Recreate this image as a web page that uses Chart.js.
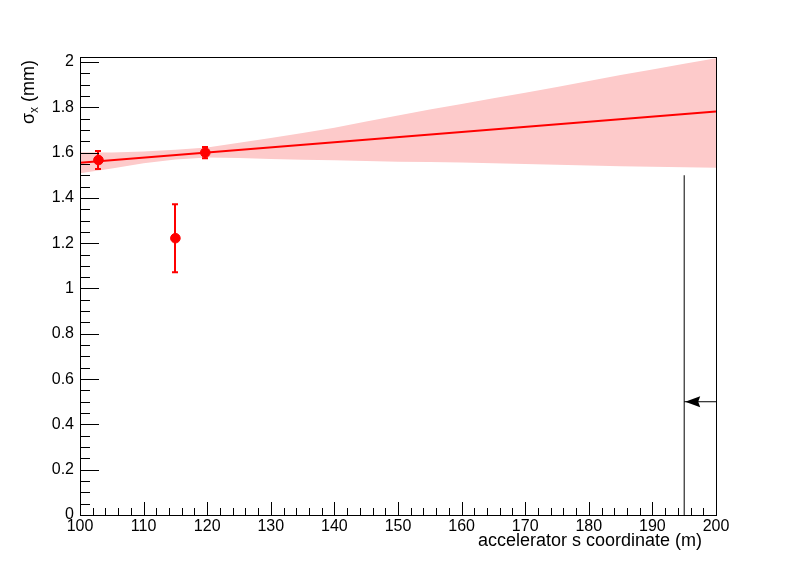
<!DOCTYPE html>
<html>
<head>
<meta charset="utf-8">
<script src="https://cdn.jsdelivr.net/npm/chart.js@4.4.0/dist/chart.umd.min.js"></script>
<style>
  html, body { margin: 0; padding: 0; background: #fff; }
</style>
</head>
<body>
<canvas id="fitChart" width="796" height="572"></canvas>
<script>
// --- data ---
const xTicks = [100, 110, 120, 130, 140, 150, 160, 170, 180, 190, 200];
const yTicks = [0, 0.2, 0.4, 0.6, 0.8, 1, 1.2, 1.4, 1.6, 1.8, 2];

// measured beam size with errors
const measS   = [102.9, 115.0, 119.7];
const measSig = [1.567, 1.222, 1.600];
const measErr = [0.040, 0.150, 0.025];

// linear fit
const fitS   = [100, 200];
const fitSig = [1.555, 1.781];

// confidence band of the fit
const bandS     = [100, 105, 110, 115, 120, 125, 130, 135, 140, 145, 150, 155, 160, 165, 170, 175, 180, 185, 190, 195, 200];
const bandLower = [1.509, 1.530, 1.553, 1.570, 1.578, 1.576, 1.572, 1.568, 1.566, 1.563, 1.560, 1.558, 1.556, 1.553, 1.550, 1.546, 1.543, 1.540, 1.538, 1.535, 1.533];
const bandUpper = [1.601, 1.600, 1.605, 1.612, 1.622, 1.643, 1.664, 1.686, 1.710, 1.737, 1.764, 1.790, 1.815, 1.840, 1.864, 1.890, 1.916, 1.942, 1.967, 1.992, 2.016];

// marker line and arrow
const markerS = 195;
const markerTop = 1.5;
const arrowStart = 200;
const arrowY = 0.5;

const FONT = "'Liberation Sans', Arial, Helvetica, sans-serif";
const toXY = (xs, ys) => xs.map((x, i) => ({ x: x, y: ys[i] }));

// ROOT-like frame, inward ticks, error bars, arrow head and axis titles
const rootStyle = {
    id: 'rootStyle',
    afterDatasetsDraw(chart) {
        const { ctx, chartArea: a, scales: { x, y } } = chart;
        ctx.save();

        // error bars
        ctx.strokeStyle = '#ff0000';
        ctx.lineWidth = 2;
        measS.forEach((s, i) => {
            const px = Math.round(x.getPixelForValue(s));
            const top = y.getPixelForValue(measSig[i] + measErr[i]);
            const bot = y.getPixelForValue(measSig[i] - measErr[i]);
            ctx.beginPath();
            ctx.moveTo(px, top); ctx.lineTo(px, bot);
            ctx.moveTo(px - 3, top); ctx.lineTo(px + 3, top);
            ctx.moveTo(px - 3, bot); ctx.lineTo(px + 3, bot);
            ctx.stroke();
        });

        // arrow head
        const ax = x.getPixelForValue(markerS) + 1;
        const ay = y.getPixelForValue(arrowY);
        ctx.fillStyle = '#000';
        ctx.beginPath();
        ctx.moveTo(ax, ay);
        ctx.lineTo(ax + 15, ay - 5.5);
        ctx.lineTo(ax + 13, ay);
        ctx.lineTo(ax + 15, ay + 5.5);
        ctx.closePath();
        ctx.fill();

        // frame
        ctx.strokeStyle = '#000';
        ctx.lineWidth = 1;
        ctx.strokeRect(Math.round(a.left) + 0.5, Math.round(a.top) + 0.5,
            Math.round(a.right - a.left), Math.round(a.bottom - a.top));

        // y ticks (inward)
        ctx.beginPath();
        for (let k = 0; k <= 40; k++) {
            const v = k * 0.05;
            const py = Math.round(y.getPixelForValue(v)) + 0.5;
            const len = (k % 4 === 0) ? 19 : 10;
            ctx.moveTo(a.left, py); ctx.lineTo(a.left + len, py);
        }
        // x ticks (inward)
        for (let s = 100; s <= 200; s += 2) {
            const px = Math.round(x.getPixelForValue(s)) + 0.5;
            const len = (s % 10 === 0) ? 13 : 7;
            ctx.moveTo(px, a.bottom); ctx.lineTo(px, a.bottom - len);
        }
        ctx.stroke();

        // x title
        ctx.fillStyle = '#000';
        ctx.font = '18px ' + FONT;
        ctx.textAlign = 'right';
        ctx.textBaseline = 'alphabetic';
        ctx.fillText('accelerator s coordinate (m)', a.right - 14, 546);

        // y title with subscript
        ctx.translate(34, 60);
        ctx.rotate(-Math.PI / 2);
        ctx.textAlign = 'left';
        const mainFont = '18px ' + FONT, subFont = '12px ' + FONT;
        ctx.font = mainFont; const wSig = ctx.measureText('\u03c3').width;
        ctx.font = subFont;  const wSub = ctx.measureText('x').width;
        ctx.font = mainFont; const wRest = ctx.measureText(' (mm)').width;
        let cx = -(wSig + wSub + wRest);
        ctx.font = mainFont; ctx.fillText('\u03c3', cx, 0); cx += wSig;
        ctx.font = subFont;  ctx.fillText('x', cx, 4); cx += wSub;
        ctx.font = mainFont; ctx.fillText(' (mm)', cx, 0);

        ctx.restore();
    }
};

new Chart(document.getElementById('fitChart'), {
    type: 'scatter',
    data: {
        datasets: [
            {
                label: 'data',
                data: toXY(measS, measSig),
                backgroundColor: '#ff0000',
                borderColor: '#ff0000',
                pointRadius: 4.8,
                pointHoverRadius: 4.8,
                showLine: false
            },
            {
                label: 'fit',
                data: toXY(fitS, fitSig),
                borderColor: '#ff0000',
                borderWidth: 2,
                pointRadius: 0,
                showLine: true
            },
            {
                label: 'marker',
                data: [{ x: markerS, y: 0 }, { x: markerS, y: markerTop }],
                borderColor: '#000',
                borderWidth: 1,
                pointRadius: 0,
                showLine: true
            },
            {
                label: 'arrow',
                data: [{ x: arrowStart, y: arrowY }, { x: markerS, y: arrowY }],
                borderColor: '#000',
                borderWidth: 1,
                pointRadius: 0,
                showLine: true
            },
            {
                label: 'band upper',
                data: toXY(bandS, bandUpper),
                borderWidth: 0,
                borderColor: 'rgba(0,0,0,0)',
                backgroundColor: 'rgb(253,202,202)',
                pointRadius: 0,
                showLine: true,
                fill: { target: 5 }
            },
            {
                label: 'band lower',
                data: toXY(bandS, bandLower),
                borderWidth: 0,
                borderColor: 'rgba(0,0,0,0)',
                pointRadius: 0,
                showLine: true,
                fill: false
            }
        ]
    },
    options: {
        responsive: false,
        animation: false,
        layout: { padding: { left: 0, top: 57, right: 80, bottom: 0 } },
        plugins: {
            legend: { display: false },
            tooltip: { enabled: false }
        },
        scales: {
            x: {
                type: 'linear',
                position: 'bottom',
                min: 100,
                max: 200,
                grid: { display: false, drawTicks: false },
                border: { display: false },
                ticks: {
                    color: '#000',
                    font: { family: FONT, size: 16 },
                    padding: 2,
                    maxRotation: 0,
                    autoSkip: false
                },
                afterBuildTicks: s => { s.ticks = xTicks.map(v => ({ value: v })); },
                afterFit: s => { s.height = 57; }
            },
            y: {
                type: 'linear',
                min: 0,
                max: 2.022,
                grid: { display: false, drawTicks: false },
                border: { display: false },
                ticks: {
                    color: '#000',
                    font: { family: FONT, size: 16 },
                    padding: 6,
                    callback: v => String(Math.round(v * 10) / 10)
                },
                afterBuildTicks: s => { s.ticks = yTicks.map(v => ({ value: v })); },
                afterFit: s => { s.width = 80; }
            }
        }
    },
    plugins: [rootStyle]
});
</script>
</body>
</html>
